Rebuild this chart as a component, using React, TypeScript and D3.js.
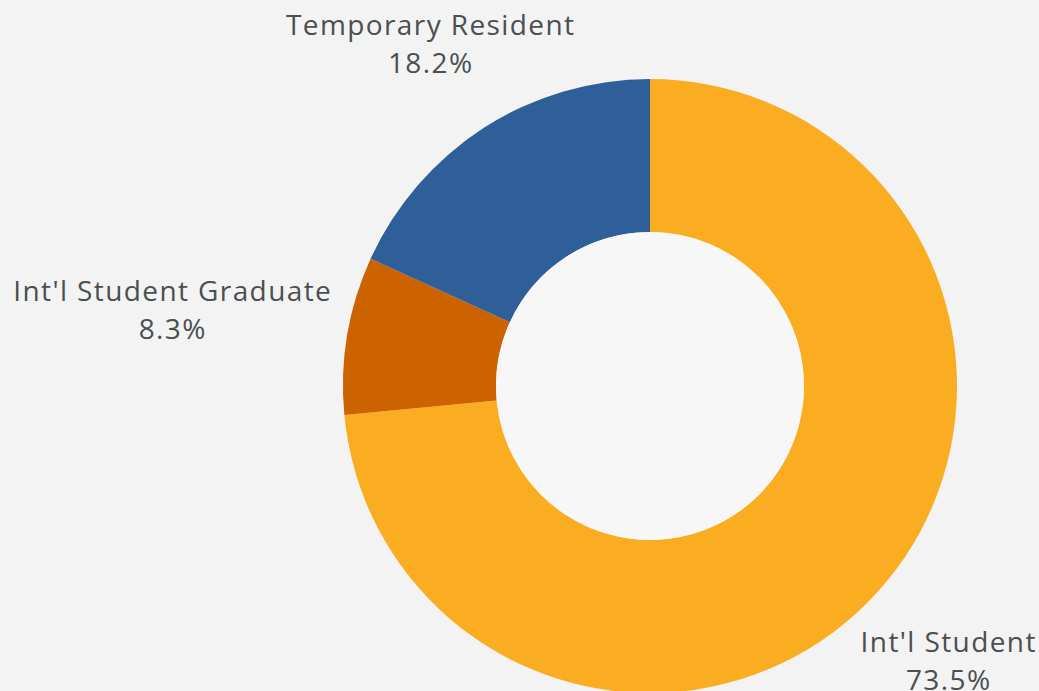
import React from "react";
import * as d3 from "d3";

const categories = ["Int'l Student", "Int'l Student Graduate", "Temporary Resident"];
const values = [73.5, 8.3, 18.2];
const colors = ["#FBAD21", "#CC6200", "#2E5F98"];

const W = 1039;
const H = 691;
const cx = 650;
const cy = 386;
const outerR = 307;
const innerR = 154;

// label anchor positions (center x, baseline y of first line)
const labelPos: [number, number][] = [
  [948, 652],
  [172, 301],
  [430, 35],
];

export default function App() {
  const pie = d3.pie<number>().sort(null).value((d) => d);
  const arcs = pie(values);
  const arc = d3.arc<d3.PieArcDatum<number>>().innerRadius(innerR).outerRadius(outerR);
  const ls = 1.4;
  return (
    <div style={{ position: "fixed", left: 0, top: 0, width: W, height: H, background: "#f3f3f3" }}>
      <svg width={W} height={H} style={{ display: "block" }}>
        <rect width={W} height={H} fill="#f3f3f3" />
        <g transform={`translate(${cx},${cy})`}>
          {arcs.map((a, i) => (
            <path key={i} d={arc(a) || ""} fill={colors[i]} />
          ))}
        </g>
        <circle cx={cx} cy={cy} r={innerR} fill="#f7f7f7" />
        {arcs.map((a, i) => (
          <text
            key={"t" + i}
            x={labelPos[i][0]}
            y={labelPos[i][1]}
            textAnchor="middle"
            fontFamily="'Open Sans', sans-serif"
            fontSize={28}
            letterSpacing={ls}
            fill="#4a4f50"
          >
            <tspan x={labelPos[i][0] + ls / 2}>{categories[i]}</tspan>
            <tspan x={labelPos[i][0] + ls / 2} dy={38}>{d3.format(".1f")(values[i])}%</tspan>
          </text>
        ))}
      </svg>
    </div>
  );
}
